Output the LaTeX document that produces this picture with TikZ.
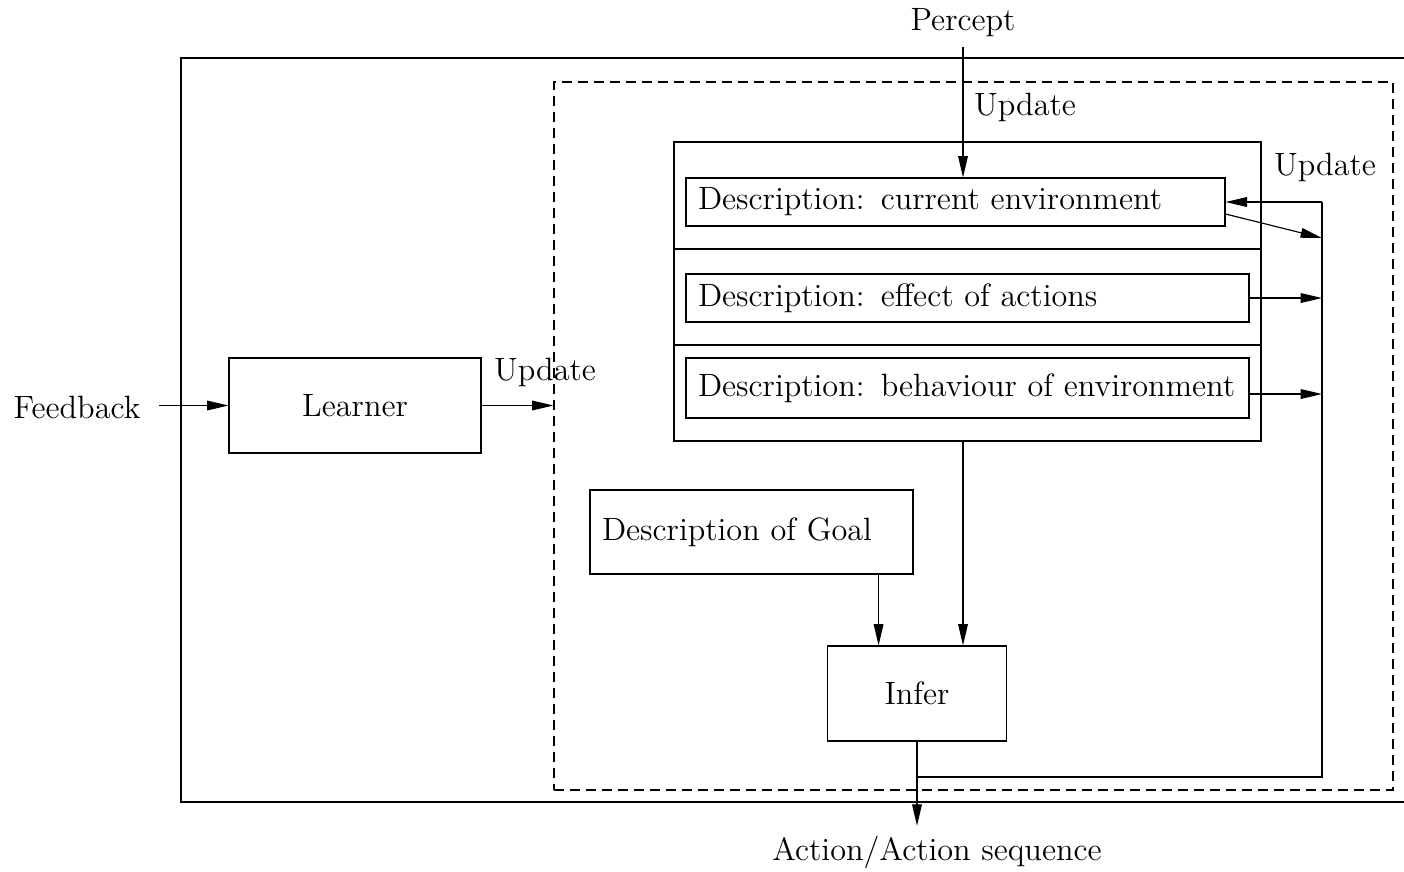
\documentclass[tikz,border=0pt]{standalone}
\usetikzlibrary{arrows.meta,positioning}

\begin{document}
\begin{tikzpicture}[x=0.35pt,y=-0.35pt,>={Triangle[length=7.5pt,width=3.4pt]},
    every node/.style={font=\fontsize{11.3}{13}\selectfont},
    box/.style={draw,inner sep=0pt,align=center},
    desc/.style={draw,inner xsep=4.2pt,inner ysep=0pt,align=left}]
    \useasboundingbox (0,0) rectangle (1404,871);

    % outer frame and agent
    \draw (1404,58) -- (181,58) -- (181,802) -- (1404,802);
    \node [draw,dash pattern=on 3.5pt off 2.1pt,minimum width=293.65pt,minimum height=247.8pt] (agent) at (973.5,436) {};

    \node (feedback) at (77,407) {Feedback};
    \node [box,minimum width=88.2pt,minimum height=33.25pt] (learner) at (355,405.5) {Learner};
    \node (percept) at (963,23) {Percept};
    \node (action) at (937,852) {Action/Action sequence};

    \node [box,minimum width=205.45pt,minimum height=104.65pt] (env) at (967.5,291.5) {};
    \draw (env.west |- 0,249) -- (env.east |- 0,249);
    \draw (env.west |- 0,345) -- (env.east |- 0,345);
    \node [desc,text width=180.25pt,minimum height=16.8pt] (cur) at (955.5,202) {Description: current environment};
    \node [desc,text width=188.65pt,minimum height=16.8pt] (eff) at (967.5,298) {Description: effect of actions};
    \node [desc,text width=188.65pt,minimum height=21pt] (beh) at (967.5,388) {Description: behaviour of environment};

    \node [desc,text width=104.65pt,minimum height=29.4pt] (goal) at (751.5,532) {Description of Goal};
    \node [box,minimum width=62.65pt,minimum height=33.25pt] (infer) at (917,693.5) {Infer};

    \coordinate (rtop) at (1322,202);
    \coordinate (rcur) at (1322,238);
    \coordinate (rbot) at (1322,777);

    \node (upd1) at (1025,107) {Update};
    \node (upd2) at (1325,167) {Update};
    \node (upd3) at (545,372) {Update};

    \draw[->,shorten <=3pt] (feedback.east |- learner) -- (learner);
    \draw[->] (learner.east) -- (learner.east -| agent.west);
    \draw[->] (percept.south) -- (percept.south |- cur.north);
    \draw[->] (rtop) -- (cur.east);
    \draw[->] ([yshift=-4.2pt]cur.east) -- (rcur);
    \draw[->] (eff.east) -- (eff.east -| rtop);
    \draw[->] ([yshift=-2.1pt]beh.east) -- ([yshift=-2.1pt]beh.east -| rtop);
    \draw (rtop) -- (rbot) -- (rbot -| infer.south);
    \draw[->] (percept.south |- env.south) -- (percept.south |- infer.north);
    \draw[->] ([xshift=-12.25pt]goal.south east) -- ([xshift=-12.25pt]goal.south east |- infer.north);
    \draw[->] (infer.south) -- (action.north -| infer.south);
\end{tikzpicture}
\end{document}
